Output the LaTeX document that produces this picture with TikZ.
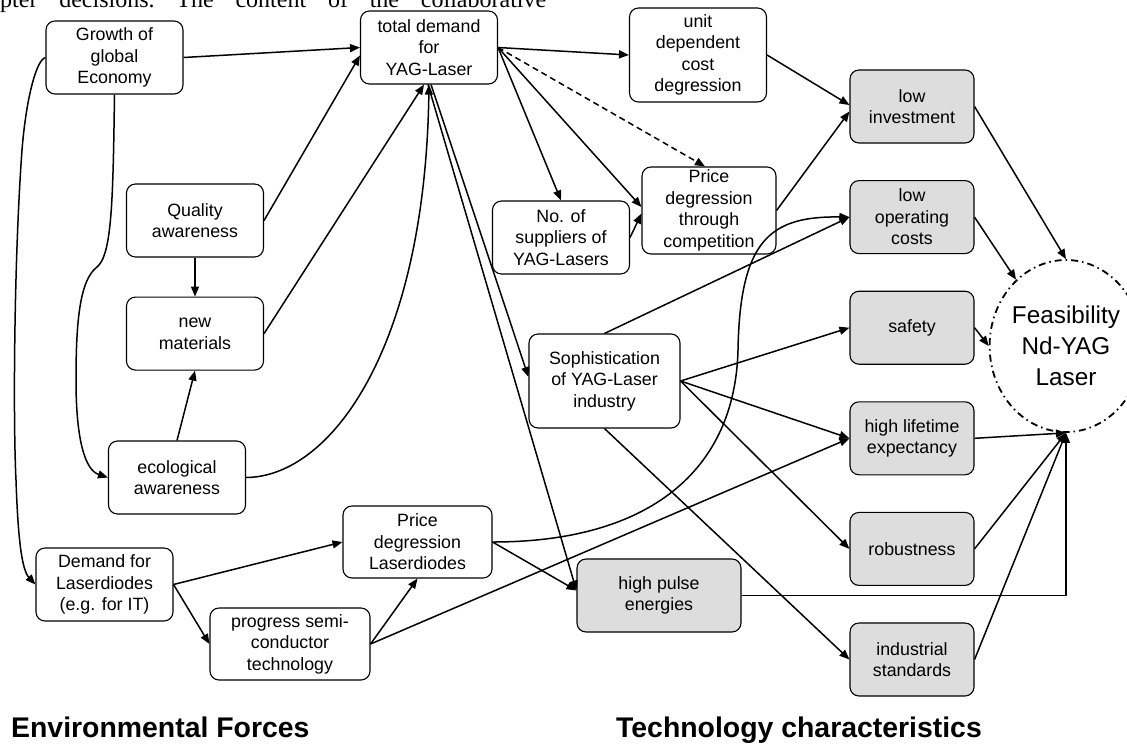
\documentclass[tikz,border=0pt]{standalone}
\usepackage{fontspec}
\setmainfont{Liberation Sans}
\newfontfamily\pageserif{Liberation Serif}
\usetikzlibrary{positioning,arrows.meta,calc,shapes.geometric}
\definecolor{cTech}{HTML}{DDDDDD}
\tikzset{
  box/.style={draw,fill=white,rounded corners=9pt,align=center,inner sep=0pt,line width=1.1pt,minimum width=137pt,minimum height=73pt,font=\fontsize{17.8}{21.5}\selectfont},
  tbox/.style={box,fill=cTech,minimum width=124pt},
  goal/.style={draw,ellipse,align=center,inner sep=0pt,minimum width=132pt,minimum height=172pt,line width=1.8pt,dash pattern=on 7pt off 4pt on 1.5pt off 4pt,font=\fontsize{24.3}{31}\selectfont},
  arr/.style={-{Triangle[length=10pt,width=8pt]},line width=1.5pt},
  darr/.style={arr,dash pattern=on 6pt off 4pt},
  ttl/.style={anchor=base west,inner sep=0pt,font=\fontsize{28.4}{34}\selectfont\bfseries}}
\begin{document}
\begin{tikzpicture}[x=1pt,y=-1pt,node distance=36.5pt]
\useasboundingbox (0,0) rectangle (1127,745);
\node[anchor=base west,inner sep=0pt,font=\pageserif\fontsize{24}{28}\selectfont] (pagetext) at (0,7.5) {\frenchspacing\makebox[546pt][s]{pter decisions. The content of the collaborative}};
\node[box] (growth) at (114.5,57.5) {Growth of\\global\\Economy};
\node[box] (total) at (429,47.5) {total demand\\for\\YAG-Laser};
\node[box, minimum height=94pt] (unit) at (698,55) {unit\\dependent\\cost\\degression};
\node[box] (quality) at (195,220.5) {Quality\\awareness};
\node[box, below=39pt of quality] (newmat) {new\\materials};
\node[box] (eco) at (177,477.5) {ecological\\awareness};
\node[box] (suppliers) at (561,237.5) {No. of\\suppliers of\\YAG-Lasers};
\node[box, minimum width=134pt, minimum height=87pt] (pricecomp) at (709,210.5) {Price\\degression\\through\\competition};
\node[box, minimum width=151pt, minimum height=94pt] (soph) at (604.5,381) {Sophistication\\of YAG-Laser\\industry};
\node[box] (demandld) at (104.5,584.5) {Demand for\\Laserdiodes\\(e.g. for IT)};
\node[box, minimum width=149pt, minimum height=72pt] (priceld) at (417.5,542) {Price\\degression\\Laserdiodes};
\node[box, minimum width=160pt, minimum height=72pt] (semi) at (290,644) {progress semi-\\conductor\\technology};
\node[tbox, minimum width=164pt] (pulse) at (659,595.5) {high pulse\\energies};
\node[tbox] (lowinv) at (912,106.5) {low\\investment};
\node[tbox, below=of lowinv] (lowop) {low\\operating\\costs};
\node[tbox, below=of lowop] (safety) {safety};
\node[tbox, below=of safety] (lifetime) {high lifetime\\expectancy};
\node[tbox, below=of lifetime] (robust) {robustness};
\node[tbox, below=of robust] (standards) {industrial\\standards};
\node[goal] (feas) at (1066,346) {Feasibility\\Nd-YAG\\Laser};
\node[ttl] (envforces) at (11,737) {Environmental Forces};
\node[ttl] (techchar) at (616,737) {Technology characteristics};
\draw[arr] (growth.east) -- (total.west);
\draw[arr] (quality.east) -- ($(total.west)+(0,8)$);
\draw[arr] (newmat.east) -- ($(total.south)+(-5,0)$);
\draw[arr] (eco.east) .. controls (330,477) and (425,350) .. (total.south);
\draw[arr] ($(total.south)+(2,0)$) -- ($(soph.west)+(0,-4)$);
\draw[arr] ($(total.south)+(-1,0)$) -- ($(pulse.west)+(0,-5)$);
\draw[arr] (total.east) -- (suppliers.north);
\draw[arr] (total.east) -- ($(pricecomp.west)+(0,-3.5)$);
\draw[darr] (total.east) -- ($(pricecomp.north)+(-4,0)$);
\draw[arr] (total.east) -- (unit.west);
\draw[arr] (suppliers.east) -- ($(pricecomp.west)+(0,3)$);
\draw[arr] (unit.east) -- ($(lowinv.west)+(0,-1.5)$);
\draw[arr] (pricecomp.east) -- ($(lowinv.west)+(0,5)$);
\draw[arr] (lowinv.east) -- (feas.north);
\draw[arr] (lowop.east) -- (feas.127);
\draw[arr] (safety.east) -- (feas.west);
\draw[arr] (lifetime.east) -- (feas.south);
\draw[arr] (robust.east) -- (feas.south);
\draw[arr] (standards.east) -- (feas.south);
\draw[arr] (pulse.east) -| (feas.south);
\draw[arr] (soph.north) -- (lowop.west);
\draw[arr] (priceld.east) .. controls (650,542) and (735,470) .. (738,350) .. controls (740,240) and (770,216) .. (lowop.west);
\draw[arr] (priceld.east) -- ($(pulse.west)+(0,-5)$);
\draw[arr] (semi.east) -- (priceld.south);
\draw[arr] (semi.east) -- (lifetime.west);
\draw[arr] (demandld.east) -- (priceld.west);
\draw[arr] (demandld.east) -- (semi.west);
\draw[arr] (growth.south) .. controls (113,200) and (112,255) .. (97,267) .. controls (80,280) and (76,320) .. (76,380) .. controls (76,440) and (85,470) .. (eco.west);
\draw[arr] (growth.west) .. controls (36,60) and (26,100) .. (22,150) .. controls (14,260) and (13,420) .. (16,480) .. controls (18,540) and (22,570) .. (demandld.west);
\draw[arr] (quality) -- (newmat);
\draw[arr] (eco.north) -- (newmat.south);
\draw[arr] (soph.east) -- (safety.west);
\draw[arr] (soph.east) -- (lifetime.west);
\draw[arr] (soph.east) -- (robust.west);
\draw[arr] (soph.south) -- (standards.west);
\end{tikzpicture}
\end{document}
